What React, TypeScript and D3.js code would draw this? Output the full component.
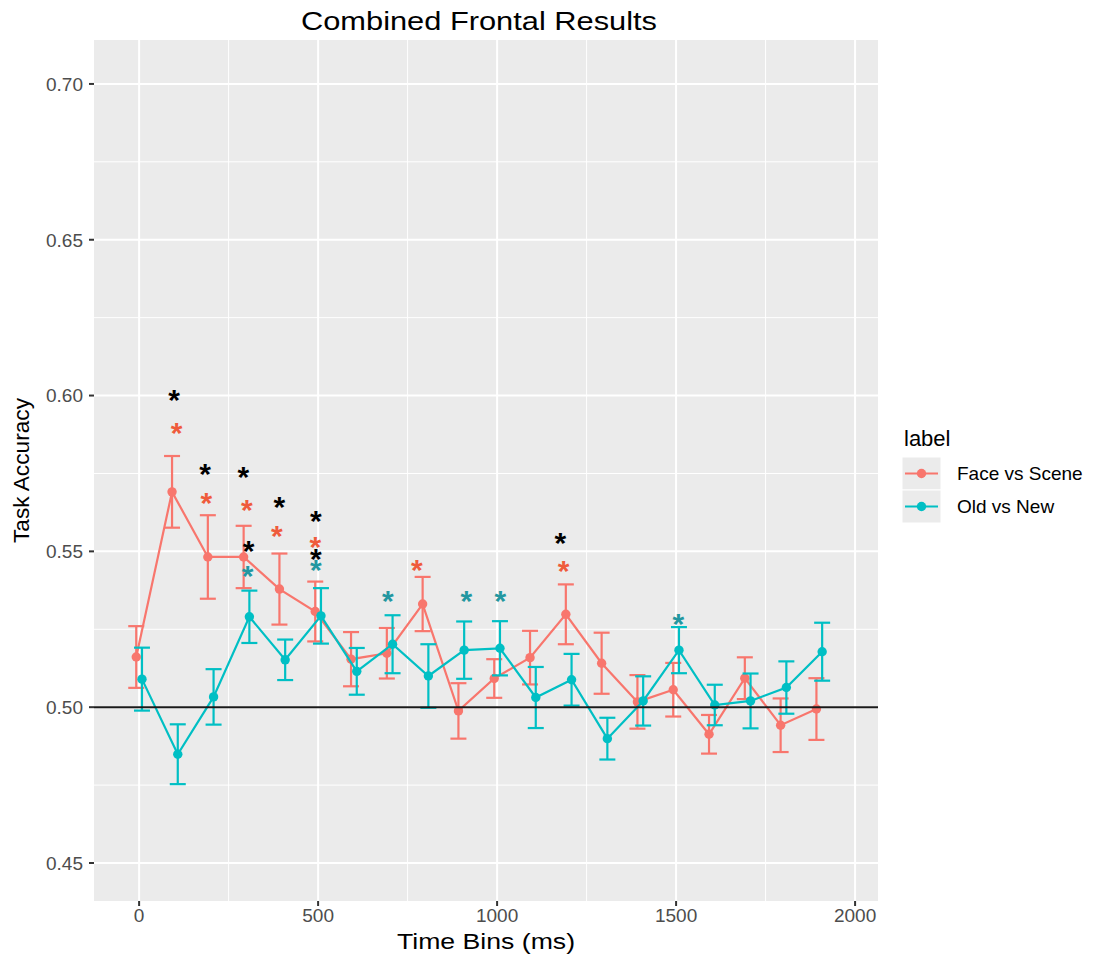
import React from "react"
import * as d3 from "d3"

// time bins (ms) and the two conditions
const timeBins = [0, 100, 200, 300, 400, 500, 600, 700, 800, 900, 1000, 1100, 1200, 1300, 1400, 1500, 1600, 1700, 1800, 1900]
const faceMean = [0.5161, 0.5691, 0.5482, 0.5482, 0.5379, 0.5307, 0.5154, 0.5173, 0.5331, 0.4988, 0.5092, 0.5159, 0.5298, 0.5141, 0.5017, 0.5056, 0.4913, 0.5093, 0.4942, 0.4994]
const faceSe = [0.0099, 0.0115, 0.0134, 0.0100, 0.0114, 0.0096, 0.0087, 0.0081, 0.0087, 0.0089, 0.0062, 0.0086, 0.0096, 0.0098, 0.0086, 0.0086, 0.0062, 0.0067, 0.0086, 0.0099]
const oldMean = [0.5090, 0.4849, 0.5033, 0.5290, 0.5152, 0.5293, 0.5115, 0.5202, 0.5100, 0.5183, 0.5189, 0.5031, 0.5088, 0.4899, 0.5020, 0.5183, 0.5007, 0.5020, 0.5063, 0.5178]
const oldSe = [0.0101, 0.0096, 0.0089, 0.0084, 0.0065, 0.0089, 0.0075, 0.0093, 0.0102, 0.0092, 0.0087, 0.0098, 0.0083, 0.0067, 0.0079, 0.0074, 0.0065, 0.0088, 0.0084, 0.0093]

const seriesNames = ["Face vs Scene", "Old vs New"]

// significance stars: x (ms), y (accuracy), which group
const starX = [98, 105, 184, 188, 291, 301, 306, 303, 392, 385, 494, 492, 494, 494, 695, 776, 914, 1009, 1177, 1186, 1506]
const starY = [0.6010, 0.5903, 0.5772, 0.5678, 0.5761, 0.5657, 0.5525, 0.5445, 0.5665, 0.5571, 0.5622, 0.5536, 0.5500, 0.5462, 0.5363, 0.5462, 0.5363, 0.5363, 0.5550, 0.5461, 0.5291]
const starGroup = ["both", "face", "both", "face", "both", "face", "both", "old", "both", "face", "both", "face", "both", "old", "old", "face", "old", "old", "both", "face", "old"]

const yTicks = [0.45, 0.5, 0.55, 0.6, 0.65, 0.7]
const yMinor = [0.475, 0.525, 0.575, 0.625, 0.675]
const xTicks = [0, 500, 1000, 1500, 2000]
const xMinor = [250, 750, 1250, 1750]

const W = 1095
const H = 955
const panel = { left: 94, right: 878, top: 40, bottom: 901 }
const font = "'Liberation Sans', Arial, sans-serif"

const colors = { face: "#F8766D", old: "#00BFC4" }
const starColors = { both: "#000000", face: "#EF5B3C", old: "#2397A0" }

export default function App() {
  const x = d3.scaleLinear().domain([-126, 2064]).range([panel.left, panel.right])
  const y = d3.scaleLinear().domain([0.4378, 0.7141]).range([panel.bottom, panel.top])

  const dodge = 8
  const capHalf = 8

  const series = [
    { key: "face", mean: faceMean, se: faceSe, off: -dodge, color: colors.face },
    { key: "old", mean: oldMean, se: oldSe, off: dodge, color: colors.old },
  ]

  const line = d3.line<number>()

  const starSize = 30
  const midX = (panel.left + panel.right) / 2

  return (
    <svg width={W} height={H} style={{ position: "absolute", left: 0, top: 0, background: "#fff" }} fontFamily={font}>
      <rect x={panel.left} y={panel.top} width={panel.right - panel.left} height={panel.bottom - panel.top} fill="#EBEBEB" />
      {/* minor grid */}
      {yMinor.map(v => (
        <line key={"ym" + v} x1={panel.left} x2={panel.right} y1={y(v)} y2={y(v)} stroke="#fff" strokeWidth={1} />
      ))}
      {xMinor.map(v => (
        <line key={"xm" + v} y1={panel.top} y2={panel.bottom} x1={x(v)} x2={x(v)} stroke="#fff" strokeWidth={1} />
      ))}
      {/* major grid */}
      {yTicks.map(v => (
        <line key={"y" + v} x1={panel.left} x2={panel.right} y1={y(v)} y2={y(v)} stroke="#fff" strokeWidth={2} />
      ))}
      {xTicks.map(v => (
        <line key={"x" + v} y1={panel.top} y2={panel.bottom} x1={x(v)} x2={x(v)} stroke="#fff" strokeWidth={2} />
      ))}

      {series.map(s => (
        <g key={s.key}>
          {timeBins.map((t, i) => {
            const cx = x(t + s.off)
            const top = y(s.mean[i] + s.se[i])
            const bot = y(s.mean[i] - s.se[i])
            return (
              <g key={t} stroke={s.color} strokeWidth={2.2}>
                <line x1={cx} x2={cx} y1={top} y2={bot} />
                <line x1={cx - capHalf} x2={cx + capHalf} y1={top} y2={top} />
                <line x1={cx - capHalf} x2={cx + capHalf} y1={bot} y2={bot} />
              </g>
            )
          })}
          <path
            d={line(timeBins.map((t, i) => [x(t + s.off), y(s.mean[i])]) as any) || ""}
            fill="none"
            stroke={s.color}
            strokeWidth={2.2}
          />
          {timeBins.map((t, i) => (
            <circle key={"p" + t} cx={x(t + s.off)} cy={y(s.mean[i])} r={4.7} fill={s.color} />
          ))}
        </g>
      ))}

      <line x1={panel.left} x2={panel.right} y1={y(0.5)} y2={y(0.5)} stroke="#1a1a1a" strokeWidth={2} />

      {starX.map((sx, i) => (
        <text
          key={"s" + i}
          x={x(sx)}
          y={y(starY[i]) + starSize * 0.575}
          textAnchor="middle"
          fontSize={starSize}
          fontWeight="bold"
          fill={starColors[starGroup[i] as keyof typeof starColors]}
        >
          *
        </text>
      ))}

      {/* y axis */}
      {yTicks.map(v => (
        <g key={"yt" + v}>
          <line x1={panel.left - 5} x2={panel.left} y1={y(v)} y2={y(v)} stroke="#333" strokeWidth={2} />
          <text x={panel.left - 11} y={y(v)} dy="0.36em" textAnchor="end" fontSize={19} fill="#4D4D4D">
            {v.toFixed(2)}
          </text>
        </g>
      ))}
      {/* x axis */}
      {xTicks.map(v => (
        <g key={"xt" + v}>
          <line x1={x(v)} x2={x(v)} y1={panel.bottom} y2={panel.bottom + 5} stroke="#333" strokeWidth={2} />
          <text x={x(v)} y={panel.bottom + 21} textAnchor="middle" fontSize={19} fill="#4D4D4D">
            {v}
          </text>
        </g>
      ))}

      <text x={midX} y={949} textAnchor="middle" fontSize={22} fill="#000" textLength={178} lengthAdjust="spacingAndGlyphs">
        Time Bins (ms)
      </text>
      <text
        transform={`translate(29,${(panel.top + panel.bottom) / 2}) rotate(-90)`}
        textAnchor="middle"
        fontSize={22}
        fill="#000"
        textLength={145}
        lengthAdjust="spacingAndGlyphs"
      >
        Task Accuracy
      </text>
      <text x={479} y={30} textAnchor="middle" fontSize={26} fill="#000" textLength={356} lengthAdjust="spacingAndGlyphs">
        Combined Frontal Results
      </text>

      {/* legend */}
      <g transform="translate(902,0)">
        <text x={2} y={446} fontSize={22} fill="#000">label</text>
        {seriesNames.map((name, i) => {
          const c = i === 0 ? colors.face : colors.old
          const ky = 457 + i * 33
          return (
            <g key={name}>
              <rect x={0} y={ky} width={39} height={33} fill="#EBEBEB" stroke="#fff" />
              <line x1={3} x2={36} y1={ky + 16.5} y2={ky + 16.5} stroke={c} strokeWidth={2.2} />
              <circle cx={19.5} cy={ky + 16.5} r={4.7} fill={c} />
              <text x={55} y={ky + 16.5} dy="0.36em" fontSize={19} fill="#000">
                {name}
              </text>
            </g>
          )
        })}
      </g>
    </svg>
  )
}
